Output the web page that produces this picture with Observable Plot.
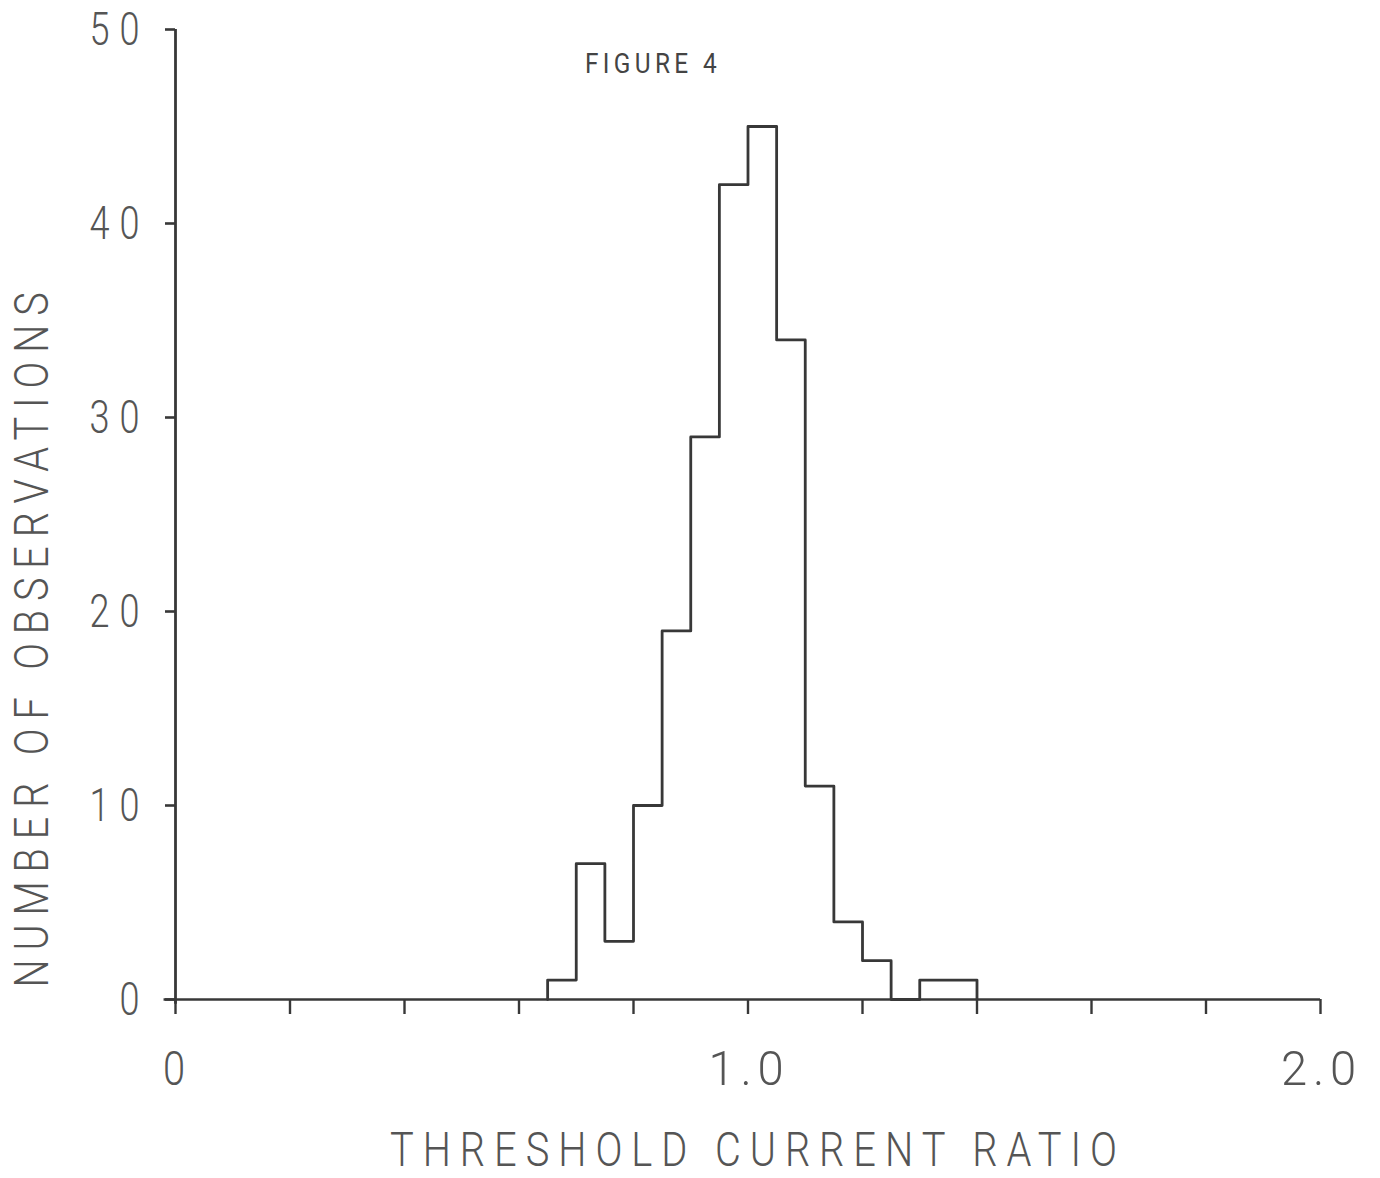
<!DOCTYPE html>
<html>
<head>
<meta charset="utf-8">
<script src="https://cdn.jsdelivr.net/npm/d3@7"></script>
<script src="https://cdn.jsdelivr.net/npm/@observablehq/plot@0.6"></script>
<style>
  html, body { margin: 0; padding: 0; background: #ffffff; }
  #chart svg { display: block; }
</style>
</head>
<body>
<div id="chart"></div>
<script>
// ---- data ----
const binStarts = [0.65, 0.70, 0.75, 0.80, 0.85, 0.90, 0.95, 1.00, 1.05, 1.10, 1.15, 1.20, 1.25, 1.30, 1.35];
const counts    = [1,    7,    3,    10,   19,   29,   42,   45,   34,   11,   4,    2,    0,    1,    1];
const binWidth  = 0.05;
const xTicks    = [0, 0.2, 0.4, 0.6, 0.8, 1.0, 1.2, 1.4, 1.6, 1.8, 2.0];
const xLabelAt  = [0, 1, 2];
const xLabelTxt = ["0", "1.0", "2.0"];
const yTicks    = [0, 10, 20, 30, 40, 50];
const titleText = "FIGURE 4";
const xTitle    = "THRESHOLD CURRENT RATIO";
const yTitle    = "NUMBER OF OBSERVATIONS";

// step outline points
const steps = [{x: binStarts[0], y: 0}]
  .concat(binStarts.map((x, i) => ({x, y: counts[i]})))
  .concat([{x: binStarts[binStarts.length - 1] + binWidth, y: 0}]);

const ink = "#383838";
const textInk = "#555555";
const font = "Roboto, 'Liberation Sans', sans-serif";

const chart = Plot.plot({
  width: 1380,
  height: 1178,
  marginLeft: 175,
  marginRight: 60,
  marginTop: 29,
  marginBottom: 179,
  style: {fontFamily: font, color: ink, background: "#ffffff"},
  x: {domain: [0, 2], axis: null},
  y: {domain: [0, 50], axis: null},
  marks: [
    // axis lines
    Plot.ruleY([0], {x1: -0.02, x2: 2.0, stroke: ink, strokeWidth: 2.4}),
    Plot.ruleX([0], {y1: -0.25, y2: 50, stroke: ink, strokeWidth: 2.8}),
    // x tick marks
    Plot.axisX(xTicks, {anchor: "bottom", tickSize: 15, tickFormat: () => "", stroke: ink, strokeWidth: 2.4, label: null}),
    // x tick labels
    Plot.axisX(xLabelAt, {anchor: "bottom", tickSize: 0, tickPadding: 51, dx: 1,
      tickFormat: (d) => xLabelTxt[xLabelAt.indexOf(d)], fontSize: 49, fill: textInk, label: null}),
    // y axis ticks and labels
    Plot.axisY(yTicks, {anchor: "left", tickSize: 10, tickPadding: 16, fontSize: 47, fill: textInk,
      stroke: ink, strokeWidth: 2.6, dy: 0, label: null}),
    // histogram outline
    Plot.line(steps, {x: "x", y: "y", curve: "step-after", stroke: ink, strokeWidth: 2.8}),
    // titles
    Plot.text([titleText], {frameAnchor: "top", textAnchor: "middle", lineAnchor: "middle",
      dx: -95, dy: 35, fontSize: 28, fill: "#444"}),
    Plot.text([xTitle], {frameAnchor: "bottom", textAnchor: "middle", lineAnchor: "middle",
      dx: 10, dy: 151, fontSize: 49, fill: textInk}),
    Plot.text([yTitle], {frameAnchor: "left", textAnchor: "middle", lineAnchor: "middle", rotate: -90,
      dx: -143, dy: 121, fontSize: 49, fill: textInk})
  ]
});

document.getElementById("chart").appendChild(chart);

// narrow, widely spaced "plotter" lettering: fixed pitch per character
function pitchText(el, pitch, spacing, weight) {
  const n = el.textContent.length;
  el.style.letterSpacing = spacing + "px";
  el.style.fontWeight = weight;
  el.setAttribute("textLength", n * pitch);
  el.setAttribute("lengthAdjust", "spacingAndGlyphs");
}

d3.select(chart).selectAll("text").each(function () {
  const t = this.textContent;
  if (t === xTitle) pitchText(this, 32, 11, 300);
  else if (t === yTitle) pitchText(this, 32, 11, 300);
  else if (t === titleText) pitchText(this, 17, 5, 400);
  else if (t.length) {
    const r = this.getBoundingClientRect();
    if (r.top > 1030) pitchText(this, 27, 6, 300);    // x tick labels
    else pitchText(this, 30, 13, 300);                // y tick labels
  }
});
</script>
</body>
</html>
